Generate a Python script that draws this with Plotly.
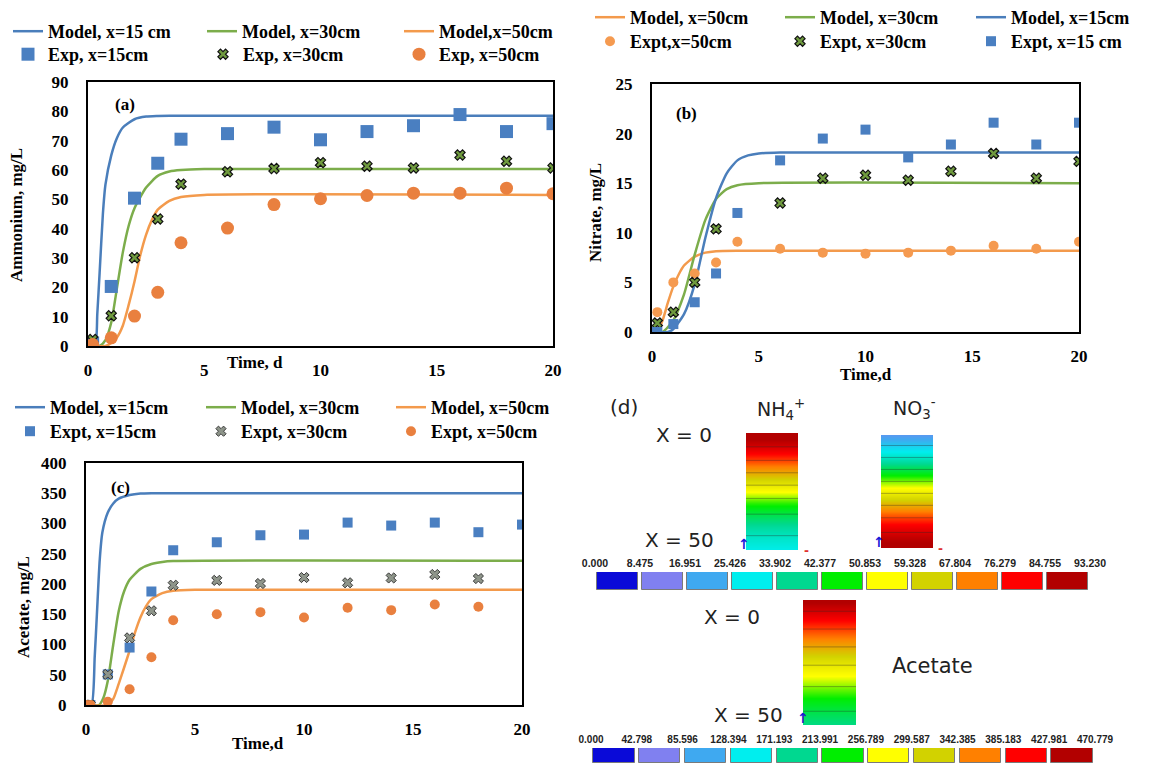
import plotly.graph_objects as go

# The page body adds an 8 px offset; the figure is sized/shifted to compensate.
OFF = 8
W, H = 1161 - OFF, 763 - OFF
def px(x): return (x - OFF) / W
def py(y): return 1 - (y - OFF) / H

# ---------------- DATA ----------------
# Panel (a) Ammonium, mg/L
a_exp_t = [0, 0.2, 1, 2, 3, 4, 6, 8, 10, 12, 14, 16, 18, 20]
a_exp15 = [0, 1, 20.3, 50.4, 62.3, 70.5, 72.4, 74.6, 70.3, 73.1, 75.1, 78.9, 73.1, 75.8]
a_exp30 = [0, 2.2, 10.3, 30.1, 43.3, 55.2, 59.4, 60.5, 62.5, 61.3, 60.7, 65.1, 63.0, 60.7]
a_exp50 = [0, 0.5, 2.8, 10.2, 18.3, 35.2, 40.2, 48.2, 50.2, 51.3, 52.1, 52.1, 53.8, 51.9]
a_mod15_t = [0, 0.3, 0.4, 0.5, 0.64, 0.75, 1.0, 1.25, 1.5, 2.0, 2.5, 3.0, 4.0, 5.0, 20]
a_mod15 = [0, 0, 11, 25, 45, 55, 65, 71, 74.5, 77.3, 78.2, 78.4, 78.5, 78.5, 78.5]
a_mod30_t = [0, 0.5, 0.75, 1.0, 1.25, 1.5, 1.75, 2.0, 2.5, 3.0, 3.5, 4.0, 5.0, 20]
a_mod30 = [0, 0, 2, 8, 20, 32, 41, 47, 54, 58, 59.5, 60, 60.3, 60.3]
a_mod50_t = [0, 0.75, 1.0, 1.25, 1.5, 1.75, 2.0, 2.25, 2.5, 2.75, 3.0, 3.5, 4.0, 5.0, 20]
a_mod50 = [0, 0, 1, 3, 7, 14, 22, 31, 38, 43, 46.5, 49.5, 50.8, 51.5, 51.5]

# Panel (b) Nitrate, mg/L
b_exp15_t = [0, 0.25, 1, 2, 3, 4, 6, 8, 10, 12, 14, 16, 18, 20]
b_exp15 = [0, 0, 0.8, 3.0, 5.9, 12.0, 17.3, 19.5, 20.4, 17.6, 18.9, 21.1, 18.9, 21.1]
b_exp30_t = [0, 0.25, 1, 2, 3, 6, 8, 10, 12, 14, 16, 18, 20]
b_exp30 = [0, 0.9, 2.0, 5.0, 10.4, 13.0, 15.5, 15.8, 15.3, 16.2, 18.0, 15.5, 17.2]
b_exp50_t = [0, 0.25, 1, 2, 3, 4, 6, 8, 10, 12, 14, 16, 18, 20]
b_exp50 = [0, 2.0, 5.0, 5.9, 7.0, 9.1, 8.4, 8.0, 7.9, 8.0, 8.2, 8.7, 8.4, 9.1]
b_mod15_t = [0, 0.75, 1.0, 1.5, 2.0, 2.5, 3.0, 3.5, 4.0, 4.5, 5.0, 6.0, 20]
b_mod15 = [0, 0, 0.3, 1.8, 4.8, 9.5, 13.5, 16.0, 17.3, 17.8, 18.0, 18.1, 18.1]
b_mod30_t = [0, 0.5, 1.0, 1.5, 2.0, 2.5, 3.0, 3.5, 4.0, 5.0, 20]
b_mod30 = [0, 0, 1.2, 3.8, 7.8, 11.3, 13.4, 14.4, 14.8, 15.0, 15.0]
b_mod50_t = [0, 0.25, 0.5, 0.75, 1.0, 1.25, 1.5, 2.0, 2.5, 3.0, 4.0, 20]
b_mod50 = [0, 0, 1.2, 3.0, 4.6, 5.8, 6.7, 7.6, 8.0, 8.15, 8.2, 8.2]

# Panel (c) Acetate, mg/L
c_exp15_t = [0, 0.2, 1, 2, 3, 4, 6, 8, 10, 12, 14, 16, 18, 20]
c_exp15 = [0, 0, 50.6, 95, 187.6, 255.8, 269, 280.6, 281.7, 301.5, 296.6, 301.5, 285.6, 298.2]
c_exp30_t = [0, 0.2, 1, 2, 3, 4, 6, 8, 10, 12, 14, 16, 18]
c_exp30 = [0, 0, 50.6, 111, 155.7, 198, 206, 200.8, 210.7, 202, 210, 215.7, 209]
c_exp50_t = [0, 0.2, 1, 2, 3, 4, 6, 8, 10, 12, 14, 16, 18]
c_exp50 = [0, 0, 5.5, 25.9, 79, 140, 150, 153.5, 144.7, 160.7, 156.8, 166, 162.3]
c_mod15_t = [0, 0.25, 0.4, 0.5, 0.63, 0.75, 1.0, 1.25, 1.5, 2.0, 2.5, 3.0, 20]
c_mod15 = [0, 0, 80, 150, 240, 285, 318, 333, 341, 347, 349.5, 350, 350]
c_mod30_t = [0, 0.6, 0.8, 1.0, 1.25, 1.5, 1.75, 2.0, 2.5, 3.0, 3.5, 4.0, 20]
c_mod30 = [0, 0, 12, 40, 100, 155, 188, 207, 225, 233, 236.5, 238, 238.5]
c_mod50_t = [0, 1.0, 1.25, 1.5, 1.75, 2.0, 2.25, 2.5, 2.75, 3.0, 3.5, 4.0, 5.0, 20]
c_mod50 = [0, 0, 10, 35, 62, 90, 120, 145, 163, 175, 185, 189, 190.5, 190.5]

# Panel (d) simulated profiles along column depth (x = 0 ... 50 cm)
d_depth = [0, 5, 10, 15, 20, 25, 30, 35, 40, 45, 50]
d_nh4 = [92, 86, 79, 71, 63, 55, 48, 42, 37, 33, 30]
d_no3 = [18, 26, 34, 42, 50, 58, 66, 74, 81, 87, 91]
d_acetate = [455, 425, 395, 365, 335, 305, 280, 255, 232, 212, 196]
d_levels_n = ["0.000", "8.475", "16.951", "25.426", "33.902", "42.377", "50.853",
              "59.328", "67.804", "76.279", "84.755", "93.230"]
d_levels_ac = ["0.000", "42.798", "85.596", "128.394", "171.193", "213.991", "256.789",
               "299.587", "342.385", "385.183", "427.981", "470.779"]
d_colors = ["#0a0ad8", "#8080f0", "#3fa9f0", "#00eeee", "#00d890", "#00ee00",
            "#ffff00", "#d2d200", "#ff8000", "#ff0000", "#b20000"]

# ---------------- STYLE ----------------
BLUE, GREEN, ORANGE = "#4a7ebb", "#7cad4b", "#f39a4c"
BLUE_M, ORANGE_M = "#4a7fc1", "#e9803f"
SERIF = "Liberation Serif"
SANS = "DejaVu Sans"

fig = go.Figure()
legend_pos = {}   # legend id -> (text start px, row centre px)

def leg_id(n):
    return "legend" if n == 1 else f"legend{n}"

counter = [0]
def next_leg(tx, ty):
    counter[0] += 1
    lid = leg_id(counter[0])
    legend_pos[lid] = (tx, ty)
    return lid

def model(t, y, name, color, xa, ya, tx, ty):
    fig.add_trace(go.Scatter(x=t, y=y, name=name, mode="lines",
                             line=dict(color=color, width=2.5, shape="spline", smoothing=0.6),
                             xaxis=xa, yaxis=ya, legend=next_leg(tx, ty)))

def exp(t, y, name, symbol, color, size, xa, ya, tx, ty, lc=None, lw=0):
    fig.add_trace(go.Scatter(x=t, y=y, name=name, mode="markers",
                             marker=dict(symbol=symbol, color=color, size=size,
                                         line=dict(color=lc or color, width=lw)),
                             xaxis=xa, yaxis=ya, legend=next_leg(tx, ty)))

# (a)
model(a_mod15_t, a_mod15, "Model, x=15 cm", BLUE, "x", "y", 50, 32)
model(a_mod30_t, a_mod30, "Model, x=30cm", GREEN, "x", "y", 244, 32)
model(a_mod50_t, a_mod50, "Model,x=50cm", ORANGE, "x", "y", 441, 32)
# (b)
model(b_mod50_t, b_mod50, "Model, x=50cm", ORANGE, "x2", "y2", 632, 18)
model(b_mod30_t, b_mod30, "Model, x=30cm", GREEN, "x2", "y2", 822, 18)
model(b_mod15_t, b_mod15, "Model, x=15cm", BLUE, "x2", "y2", 1013, 18)
# (c)
model(c_mod15_t, c_mod15, "Model, x=15cm", BLUE, "x3", "y3", 52, 408)
model(c_mod30_t, c_mod30, "Model, x=30cm", GREEN, "x3", "y3", 243, 408)
model(c_mod50_t, c_mod50, "Model, x=50cm", ORANGE, "x3", "y3", 433, 408)

exp(a_exp_t, a_exp15, "Exp, x=15cm", "square", BLUE_M, 13, "x", "y", 50, 55)
exp(a_exp_t, a_exp30, "Exp, x=30cm", "x", "#6f9a3e", 9, "x", "y", 245, 55, "#111111", 1.2)
exp(a_exp_t, a_exp50, "Exp, x=50cm", "circle", ORANGE_M, 13, "x", "y", 441, 55)
exp(b_exp50_t, b_exp50, "Expt,x=50cm", "circle", "#f59a50", 10, "x2", "y2", 632, 42)
exp(b_exp30_t, b_exp30, "Expt, x=30cm", "x", "#6f9a3e", 9, "x2", "y2", 822, 42, "#111111", 1.2)
exp(b_exp15_t, b_exp15, "Expt, x=15 cm", "square", BLUE_M, 10, "x2", "y2", 1013, 42)
exp(c_exp15_t, c_exp15, "Expt, x=15cm", "square", BLUE_M, 10, "x3", "y3", 52, 432)
exp(c_exp30_t, c_exp30, "Expt, x=30cm", "x", "#8e958a", 9, "x3", "y3", 243, 432, "#3a3a3a", 1)
exp(c_exp50_t, c_exp50, "Expt, x=50cm", "circle", ORANGE_M, 10, "x3", "y3", 433, 432)

# (d) column profiles
def colorscale():
    n = len(d_colors)
    return [[i / (n - 1), c] for i, c in enumerate(d_colors)]

def column(prof, zmax, step, xa, ya):
    fig.add_trace(go.Contour(z=[[v, v] for v in prof], x=[0, 1], y=d_depth,
                             colorscale=colorscale(), zmin=step / 2, zmax=zmax - step / 2,
                             contours=dict(coloring="heatmap", start=0, end=zmax, size=step),
                             line=dict(color="rgba(40,40,40,0.6)", width=0.6),
                             showscale=False, showlegend=False, hoverinfo="skip",
                             xaxis=xa, yaxis=ya))

column(d_nh4, 93.23, 8.475, "x4", "y4")
column(d_no3, 93.23, 8.475, "x5", "y5")
column(d_acetate, 470.779, 42.798, "x7", "y7")

# (d) colour legends as boxes
for xa, ya in (("x6", "y6"), ("x8", "y8")):
    fig.add_trace(go.Bar(x=list(range(len(d_colors))), y=[1] * len(d_colors),
                         marker=dict(color=d_colors, line=dict(color="#7a7a7a", width=1)),
                         width=0.9, showlegend=False, hoverinfo="skip",
                         xaxis=xa, yaxis=ya))

# ---------------- LAYOUT ----------------
tick_font = dict(family=SERIF, size=17, color="black", weight="bold")

def main_axes(xdom, ydom, yrange, ydtick, anchor_x, anchor_y):
    xa = dict(domain=xdom, range=[0, 20], dtick=5, anchor=anchor_y, showgrid=False,
              zeroline=False, showline=True, linecolor="black", linewidth=2, mirror=True,
              ticks="", tickfont=tick_font, ticklabelstandoff=8)
    ya = dict(domain=ydom, range=yrange, dtick=ydtick, anchor=anchor_x, showgrid=False,
              zeroline=False, showline=True, linecolor="black", linewidth=2, mirror=True,
              ticks="", tickfont=tick_font, ticklabelstandoff=14)
    return xa, ya

xa1, ya1 = main_axes([px(88), px(553)], [py(346), py(82)], [0, 90], 10, "x", "y")
xa2, ya2 = main_axes([px(652), px(1079)], [py(332), py(84)], [0, 25], 5, "x2", "y2")
xa3, ya3 = main_axes([px(86), px(522)], [py(705), py(463)], [0, 400], 50, "x3", "y3")

hidden = dict(visible=False, showgrid=False, zeroline=False)

def cbar_x(dom, labels, anchor, size):
    return dict(domain=dom, range=[-0.5, 10.5], anchor=anchor, side="top",
                tickvals=[i - 0.5 for i in range(len(labels))], ticktext=labels,
                ticks="", showgrid=False, zeroline=False, showline=False,
                tickfont=dict(family="Liberation Sans", size=size, color="#222222", weight="bold"),
                ticklabelstandoff=2)

leg_font = dict(family=SERIF, size=18, color="black", weight="bold")
legends = {}
for lid, (tx, ty) in legend_pos.items():
    legends[lid] = dict(x=px(tx - 42), y=py(ty - 19), xanchor="left", yanchor="top",
                        orientation="v", font=leg_font, bgcolor="rgba(0,0,0,0)",
                        borderwidth=0, itemwidth=30)

annotations = []
def ann(text, x, y, size=17, family=SERIF, bold=True, angle=0, color="black"):
    annotations.append(dict(text=text, x=px(x), y=py(y), xref="paper", yref="paper",
                            showarrow=False, textangle=angle,
                            font=dict(family=family, size=size, color=color,
                                      weight="bold" if bold else "normal"),
                            xanchor="center", yanchor="middle"))

ann("Ammonium, mg/L", 17, 215, angle=-90)
ann("Time, d", 255, 362)
ann("(a)", 125, 105)
ann("Nitrate, mg/L", 595, 213, angle=-90)
ann("Time,d", 866, 374)
ann("(b)", 686, 113)
ann("Acetate, mg/L", 23, 607, angle=-90)
ann("Time,d", 258, 743)
ann("(c)", 120, 487)

ann("(d)", 624, 407, size=20, family=SANS, bold=False, color="#222")
ann("NH<sub>4</sub><sup>+</sup>", 781, 409, size=19, family=SANS, bold=False, color="#222")
ann("NO<sub>3</sub><sup>-</sup>", 914, 408, size=19, family=SANS, bold=False, color="#222")
ann("X = 0", 684, 435, size=20, family=SANS, bold=False, color="#222")
ann("X = 50", 680, 540, size=20, family=SANS, bold=False, color="#222")
ann("X = 0", 732, 617, size=20, family=SANS, bold=False, color="#222")
ann("X = 50", 748, 715, size=20, family=SANS, bold=False, color="#222")
ann("Acetate", 932, 666, size=21, family=SANS, bold=False, color="#222")
for xx, yy in ((744, 544), (879, 542), (803, 718)):
    ann("↑", xx, yy, size=14, family=SANS, bold=True, color="#1a1ad8")
for xx, yy in ((806, 551), (940, 549)):
    ann("-", xx, yy, size=12, family=SANS, bold=True, color="#e03030")

fig.update_layout(
    width=W, height=H, margin=dict(l=0, r=0, t=0, b=0, autoexpand=False),
    paper_bgcolor="white", plot_bgcolor="white",
    xaxis=xa1, yaxis=ya1, xaxis2=xa2, yaxis2=ya2, xaxis3=xa3, yaxis3=ya3,
    xaxis4=dict(domain=[px(746), px(798)], range=[0, 1], anchor="y4", **hidden),
    yaxis4=dict(domain=[py(550), py(433)], range=[50, 0], anchor="x4", **hidden),
    xaxis5=dict(domain=[px(881), px(933)], range=[0, 1], anchor="y5", **hidden),
    yaxis5=dict(domain=[py(548), py(435)], range=[50, 0], anchor="x5", **hidden),
    xaxis7=dict(domain=[px(803), px(856)], range=[0, 1], anchor="y7", **hidden),
    yaxis7=dict(domain=[py(725), py(600)], range=[50, 0], anchor="x7", **hidden),
    xaxis6=cbar_x([px(595), px(1090)], d_levels_n, "y6", 10.5),
    yaxis6=dict(domain=[py(590), py(572)], range=[0, 1], anchor="x6", **hidden),
    xaxis8=cbar_x([px(591), px(1095)], d_levels_ac, "y8", 10),
    yaxis8=dict(domain=[0, py(748)], range=[0, 1], anchor="x8", **hidden),
    annotations=annotations, bargap=0, showlegend=True,
    **legends,
)

fig.write_html("out.html")
